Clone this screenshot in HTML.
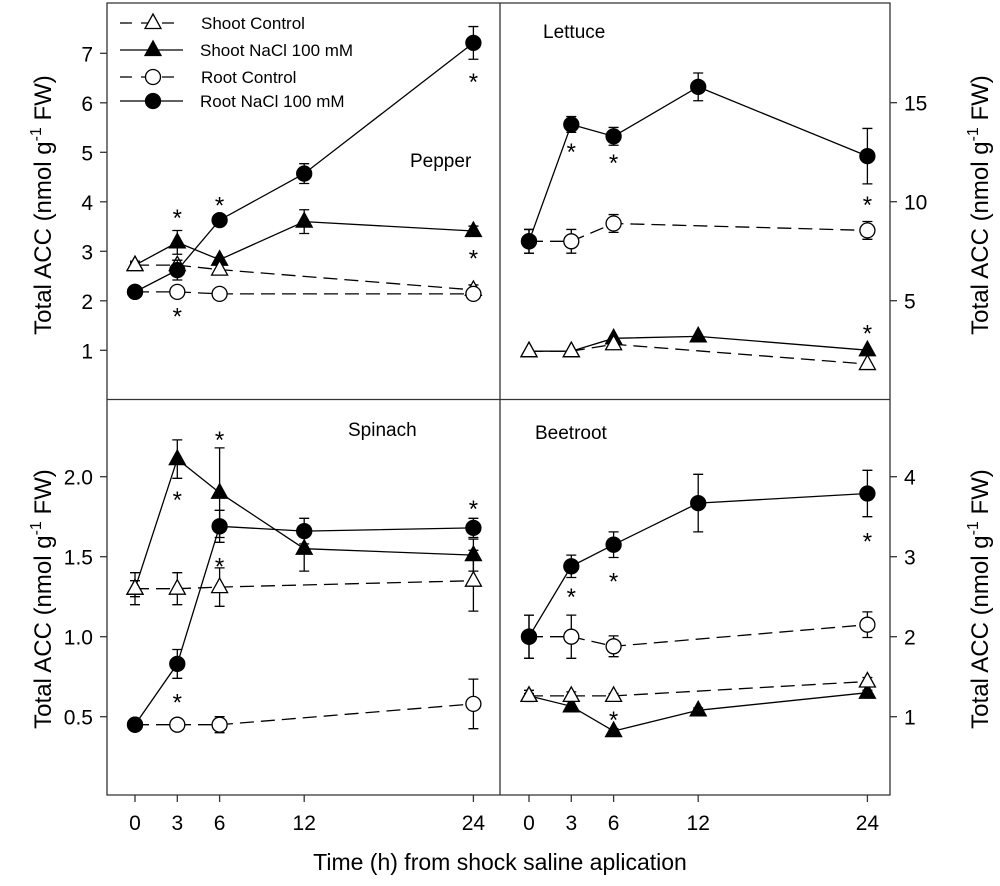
<!DOCTYPE html>
<html><head><meta charset="utf-8"><style>
body{margin:0;background:#fff}
svg{display:block;font-family:"Liberation Sans",Arial,sans-serif}
</style></head><body>
<svg id="c" width="1000" height="886" viewBox="0 0 1000 886"></svg>
<script>
const hours=[0,3,6,12,24];
const ctrlHours=[0,3,6,24];
// Pepper
const pepShootCtrl=[2.72,2.72,2.63,2.22], pepShootCtrlErr=[0.08,0.1,0.1,0.1];
const pepShootNa=[2.72,3.18,2.83,3.6,3.41], pepShootNaErr=[0.05,0.24,0.05,0.24,0.1];
const pepRootCtrl=[2.18,2.18,2.14,2.14], pepRootCtrlErr=[0.03,0.05,0.03,0.03];
const pepRootNa=[2.18,2.62,3.63,4.57,7.21], pepRootNaErr=[0.04,0.2,0.05,0.2,0.33];
const pepStars=[[3,3.77],[6,4.03],[3,1.78],[24,6.52],[24,2.96]];
// Lettuce
const letShootCtrl=[2.45,2.45,2.8,1.8], letShootCtrlErr=[0,0.1,0.1,0.1];
const letShootNa=[2.45,2.45,3.1,3.2,2.5], letShootNaErr=[0.05,0.05,0.1,0.1,0.05];
const letRootCtrl=[8.0,8.0,8.9,8.55], letRootCtrlErr=[0.6,0.6,0.45,0.45];
const letRootNa=[8.0,13.9,13.3,15.8,12.3], letRootNaErr=[0.6,0.4,0.45,0.7,1.4];
const letStars=[[3,12.76],[6,12.2],[24,10.09],[24,3.6]];
// Spinach
const spiShootCtrl=[1.3,1.3,1.31,1.35], spiShootCtrlErr=[0.1,0.1,0.12,0.19];
const spiShootNa=[1.3,2.11,1.9,1.55,1.51], spiShootNaErr=[0.05,0.12,0.28,0.14,0.1];
const spiRootCtrl=[0.45,0.45,0.45,0.58], spiRootCtrlErr=[0.02,0.02,0.05,0.155];
const spiRootNa=[0.45,0.83,1.69,1.66,1.68], spiRootNaErr=[0.02,0.09,0.1,0.08,0.06];
const spiStars=[[3,1.886],[6,2.26],[24,1.83],[3,0.62],[6,1.47]];
// Beetroot
const beeShootCtrl=[1.26,1.26,1.26,1.44], beeShootCtrlErr=[0.07,0.05,0.03,0.05];
const beeShootNa=[1.26,1.13,0.82,1.08,1.3], beeShootNaErr=[0.03,0.06,0.03,0.03,0.03];
const beeRootCtrl=[2.0,2.0,1.88,2.15], beeRootCtrlErr=[0.27,0.27,0.13,0.16];
const beeRootNa=[2.0,2.88,3.15,3.67,3.79], beeRootNaErr=[0.27,0.14,0.16,0.36,0.29];
const beeStars=[[3,2.56],[6,2.75],[6,1.02],[24,3.25]];
const leftTicks=[1,2,3,4,5,6,7], letTicks=[5,10,15], spiTicks=["0.5","1.0","1.5","2.0"], beeTicks=[1,2,3,4];

const S=document.getElementById('c'),NS='http://www.w3.org/2000/svg';
function mk(t,a,txt){const e=document.createElementNS(NS,t);for(const k in a)e.setAttribute(k,a[k]);if(txt!==undefined)e.textContent=txt;S.appendChild(e);return e;}
function panel(x0,y0max,yBottom,pxPerUnit){return{x:h=>x0+14.1*h,y:v=>yBottom-v*pxPerUnit};}
const P={
 pep:panel(135,0,399.8,49.5), let:panel(529,0,399.7,19.8),
 spi:panel(135,0,796.7,160), bee:panel(529,0,796.7,80)};
function series(p,xs,vals,errs,dashed,marker,filled,name){
 let d=xs.map((h,i)=>(i?'L':'M')+p.x(h)+','+p.y(vals[i])).join(' ');
 const l=mk('path',{d:d,fill:'none',stroke:'#000','stroke-width':1.3,'stroke-dasharray':dashed?'14,7':'none'});
 
 
 xs.forEach((h,i)=>{const cx=p.x(h),cy=p.y(vals[i]),e=errs[i]*( (p.y(0)-p.y(1)) );
  if(e>2){const eb=mk('path',{d:`M${cx},${cy-e}V${cy+e}M${cx-5},${cy-e}H${cx+5}M${cx-5},${cy+e}H${cx+5}`,stroke:'#000','stroke-width':1.3,fill:'none'});
   
   }
  let m;
  if(marker==='c')m=mk('circle',{cx:cx,cy:cy,r:7.5,fill:filled?'#000':'#fff',stroke:'#000','stroke-width':1.3});
  else m=mk('path',{d:`M${cx},${cy-9}L${cx+8},${cy+5.5}L${cx-8},${cy+5.5}Z`,fill:filled?'#000':'#fff',stroke:'#000','stroke-width':1.3});
  
  
 });
}
function stars(p,arr,name){arr.forEach(s=>{const t=mk('text',{x:p.x(s[0]),y:p.y(s[1])+13,'font-size':24,'text-anchor':'middle'},'*');
 
 });}
function draw(p,d,name){
 series(p,hours,d[2],d[3],false,'t',true,name+'-shoot-nacl');
 series(p,ctrlHours,d[0],d[1],true,'t',false,name+'-shoot-control');
 series(p,ctrlHours,d[4],d[5],true,'c',false,name+'-root-control');
 series(p,hours,d[6],d[7],false,'c',true,name+'-root-nacl');
}
const fr=mk('path',{d:'M107,3H890V795H107Z M107,399.5H890 M500,3V795',fill:'none',stroke:'#333','stroke-width':1.3});


[['pep',leftTicks,'l'],['spi',spiTicks,'l'],['let',letTicks,'r'],['bee',beeTicks,'r']].forEach(([k,ts,side])=>{
 const p=P[k];ts.forEach(t=>{const y=p.y(+t);
  const xA=side==='l'?107:890;
  mk('line',{x1:xA,x2:side==='l'?xA-7:xA+7,y1:y,y2:y,stroke:'#333','stroke-width':1.3});
  const tx=mk('text',{x:side==='l'?93:904,y:y+8,'font-size':21,'text-anchor':side==='l'?'end':'start'},t);
  
  });
});
['spi','bee'].forEach(k=>{const p=P[k];hours.forEach(h=>{
 mk('line',{x1:p.x(h),x2:p.x(h),y1:795,y2:802,stroke:'#333','stroke-width':1.3});
 const t=mk('text',{x:p.x(h),y:830,'font-size':21,'text-anchor':'middle'},h);
 
 });});
draw(P.pep,[pepShootCtrl,pepShootCtrlErr,pepShootNa,pepShootNaErr,pepRootCtrl,pepRootCtrlErr,pepRootNa,pepRootNaErr],'pepper');
draw(P.let,[letShootCtrl,letShootCtrlErr,letShootNa,letShootNaErr,letRootCtrl,letRootCtrlErr,letRootNa,letRootNaErr],'lettuce');
draw(P.spi,[spiShootCtrl,spiShootCtrlErr,spiShootNa,spiShootNaErr,spiRootCtrl,spiRootCtrlErr,spiRootNa,spiRootNaErr],'spinach');
draw(P.bee,[beeShootCtrl,beeShootCtrlErr,beeShootNa,beeShootNaErr,beeRootCtrl,beeRootCtrlErr,beeRootNa,beeRootNaErr],'beetroot');
stars(P.pep,pepStars,'pepper');stars(P.let,letStars,'lettuce');stars(P.spi,spiStars,'spinach');stars(P.bee,beeStars,'beetroot');
</script>
<script>
(function(){
const S=document.getElementById('c'),NS='http://www.w3.org/2000/svg';
function mk(t,a,txt){const e=document.createElementNS(NS,t);for(const k in a)e.setAttribute(k,a[k]);if(txt!==undefined)e.textContent=txt;S.appendChild(e);return e;}
const leg=[['Shoot Control',true,'t',false,23],['Shoot NaCl 100 mM',false,'t',true,50],['Root Control',true,'c',false,77],['Root NaCl 100 mM',false,'c',true,101]];
leg.forEach(([lab,dash,m,f,y],i)=>{
 const g=document.createElementNS(NS,'g');S.appendChild(g);
 
 
 const ln=document.createElementNS(NS,'path');ln.setAttribute('d',`M120,${y}H183`);ln.setAttribute('stroke','#000');ln.setAttribute('stroke-width','1.3');if(dash)ln.setAttribute('stroke-dasharray','12,9');g.appendChild(ln);
 let s=document.createElementNS(NS,m==='c'?'circle':'path');
 if(m==='c'){s.setAttribute('cx',153);s.setAttribute('cy',y);s.setAttribute('r',7.5);}else s.setAttribute('d',`M153,${y-9}L161,${y+5.5}L145,${y+5.5}Z`);
 s.setAttribute('fill',f?'#000':'#fff');s.setAttribute('stroke','#000');s.setAttribute('stroke-width','1.3');g.appendChild(s);
 const t=document.createElementNS(NS,'text');t.setAttribute('x',i%2?200:201);t.setAttribute('y',y+6);t.setAttribute('font-size',17);t.textContent=lab;g.appendChild(t);
});
const titles=[['Pepper',410,167],['Lettuce',543,38],['Spinach',348,436],['Beetroot',535,439]];
titles.forEach(([n,x,y])=>{const t=mk('text',{x:x,y:y,'font-size':19},n);
 
 });
function ytitle(x,y,name){const t=mk('text',{x:0,y:0,'font-size':24,'text-anchor':'middle',transform:`translate(${x},${y}) rotate(-90)`});
 t.innerHTML='Total ACC (nmol g<tspan dy="-10" font-size="16">-1</tspan><tspan dy="10"> FW)</tspan>';
 
 }
ytitle(51,205,'pepper-y-axis-title');ytitle(51,599,'spinach-y-axis-title');ytitle(988,205,'lettuce-y-axis-title');ytitle(988,599,'beetroot-y-axis-title');
const xt=mk('text',{x:500,y:870,'font-size':23,'text-anchor':'middle'},'Time (h) from shock saline aplication');


})();
</script>
</body></html>
